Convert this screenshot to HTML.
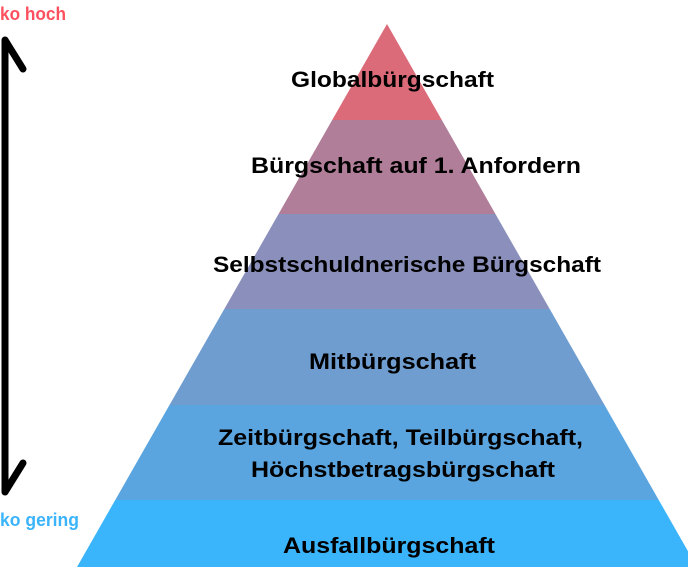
<!DOCTYPE html>
<html><head><meta charset="utf-8"><style>
html,body{margin:0;padding:0;background:#fff;width:688px;height:567px;overflow:hidden}
svg text{font-family:"Liberation Sans",sans-serif;font-weight:bold}
</style></head><body>
<svg width="688" height="567" viewBox="0 0 688 567" xmlns="http://www.w3.org/2000/svg">
<defs><clipPath id="p"><polygon points="387,24 77,567 697,567"/></clipPath></defs>
<g clip-path="url(#p)">
<rect x="0" y="0" width="688" height="120" fill="#dc6b7a"/>
<rect x="0" y="120" width="688" height="94" fill="#b07e98"/>
<rect x="0" y="214" width="688" height="95" fill="#8a90bb"/>
<rect x="0" y="309" width="688" height="96" fill="#6f9dd0"/>
<rect x="0" y="405" width="688" height="95" fill="#5aa5e0"/>
<rect x="0" y="500" width="688" height="67" fill="#3ab4fb"/>
</g>
<g fill="#000" font-size="22" lengthAdjust="spacingAndGlyphs">
<text x="291" y="87" textLength="203" lengthAdjust="spacingAndGlyphs">Globalbürgschaft</text>
<text x="251" y="173" textLength="330" lengthAdjust="spacingAndGlyphs">Bürgschaft auf 1. Anfordern</text>
<text x="213" y="272" textLength="388" lengthAdjust="spacingAndGlyphs">Selbstschuldnerische Bürgschaft</text>
<text x="309" y="369" textLength="167" lengthAdjust="spacingAndGlyphs">Mitbürgschaft</text>
<text x="218" y="445" textLength="365" lengthAdjust="spacingAndGlyphs">Zeitbürgschaft, Teilbürgschaft,</text>
<text x="251" y="477" textLength="304" lengthAdjust="spacingAndGlyphs">Höchstbetragsbürgschaft</text>
<text x="283" y="553" textLength="212" lengthAdjust="spacingAndGlyphs">Ausfallbürgschaft</text>
</g>
<g stroke="#000" stroke-width="7" stroke-linecap="round" stroke-linejoin="round" fill="none">
<line x1="5" y1="42" x2="5" y2="490"/>
<polyline points="5,42 5,40 23,69"/>
<polyline points="5,490 5,492 23,463"/>
</g>
<text x="0" y="20" font-size="18" fill="#ff5060" textLength="66" lengthAdjust="spacingAndGlyphs">ko hoch</text>
<text x="0" y="526" font-size="18" fill="#3ab4fb" textLength="79" lengthAdjust="spacingAndGlyphs">ko gering</text>
</svg>
</body></html>
